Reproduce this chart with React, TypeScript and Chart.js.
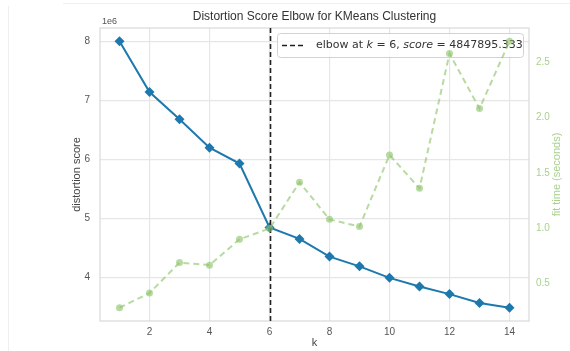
import React, { useEffect, useRef } from 'react';
import { Chart, registerables } from 'chart.js';

Chart.register(...registerables);

// ---- data ----
const kValues = [1, 2, 3, 4, 5, 6, 7, 8, 9, 10, 11, 12, 13, 14];
const distortionScores = [
  8000000, 7140000, 6680000, 6200000, 5930000, 4847895.333, 4655000,
  4355000, 4190000, 3995000, 3850000, 3720000, 3570000, 3490000,
];
const fitTimes = [
  0.283, 0.415, 0.69, 0.667, 0.9, 0.997, 1.415, 1.08, 1.015, 1.662, 1.36,
  2.576, 2.08, 2.687,
];
const xTicks = [2, 4, 6, 8, 10, 12, 14];
const yTicks = [4000000, 5000000, 6000000, 7000000, 8000000];
const y2Ticks = [0.5, 1.0, 1.5, 2.0, 2.5];
const elbowK = 6;
const elbowScore = '4847895.333';

const titleText = 'Distortion Score Elbow for KMeans Clustering';
const yLabel = 'distortion score';
const y2Label = 'fit time (seconds)';
const xLabel = 'k';
const offsetText = '1e6';

const BLUE = '#1d78ad';
const GREEN = 'rgba(140, 196, 105, 0.62)';
const GREEN_TEXT = '#a9d18e';
const SANS = '"Liberation Sans", Arial, sans-serif';

function range(vals: number[]) {
  const lo = Math.min(...vals);
  const hi = Math.max(...vals);
  const m = (hi - lo) * 0.05;
  return [lo - m, hi + m];
}

const decor = {
  id: 'decor',
  beforeDraw(chart: any) {
    const ctx = chart.ctx;
    ctx.save();
    ctx.fillStyle = '#ffffff';
    ctx.fillRect(0, 0, chart.width, chart.height);
    ctx.strokeStyle = '#efefef';
    ctx.lineWidth = 1;
    ctx.beginPath();
    ctx.moveTo(63, 3.5);
    ctx.lineTo(chart.width, 3.5);
    ctx.moveTo(8.5, 6);
    ctx.lineTo(8.5, chart.height);
    ctx.stroke();
    ctx.restore();
  },
  beforeDatasetsDraw(chart: any) {
    const { ctx, chartArea: a } = chart;
    ctx.save();
    ctx.strokeStyle = '#d9d9d9';
    ctx.lineWidth = 1.2;
    ctx.strokeRect(a.left, a.top, a.right - a.left, a.bottom - a.top);
    ctx.restore();
  },
  beforeDatasetDraw(chart: any, args: any) {
    if (args.index !== 1) return;
    const { ctx, chartArea: a } = chart;
    const xs = chart.scales.x;
    const px = Math.round(xs.getPixelForValue(elbowK)) + 0.5;
    ctx.save();
    // elbow line
    ctx.strokeStyle = '#222';
    ctx.lineWidth = 1.6;
    ctx.setLineDash([5, 3]);
    ctx.beginPath();
    ctx.moveTo(px, a.top);
    ctx.lineTo(px, a.bottom);
    ctx.stroke();
    // legend
    ctx.setLineDash([]);
    const bx = 277, by = 33, bw = 246, bh = 24;
    ctx.fillStyle = 'rgba(255,255,255,0.8)';
    ctx.strokeStyle = 'rgba(200,200,200,0.8)';
    ctx.lineWidth = 1;
    ctx.beginPath();
    ctx.roundRect(bx + 0.5, by + 0.5, bw, bh, 3);
    ctx.fill();
    ctx.stroke();
    const ly = by + bh / 2 + 0.5;
    ctx.strokeStyle = '#222';
    ctx.lineWidth = 1.6;
    ctx.setLineDash([5, 3]);
    ctx.beginPath();
    ctx.moveTo(282, ly);
    ctx.lineTo(306, ly);
    ctx.stroke();
    ctx.setLineDash([]);
    const parts: [string, boolean][] = [
      ['elbow at ', false],
      ['k', true],
      [' = 6, ', false],
      ['score', true],
      [' = ' + elbowScore, false],
    ];
    let tx = 316;
    ctx.fillStyle = '#333';
    ctx.textBaseline = 'middle';
    ctx.textAlign = 'left';
    for (const [t, it] of parts) {
      ctx.font = (it ? 'italic ' : '') + '11px "DejaVu Sans", sans-serif';
      ctx.fillText(t, tx, ly);
      tx += ctx.measureText(t).width;
    }
    ctx.restore();
  },
  afterDraw(chart: any) {
    const { ctx, chartArea: a } = chart;
    ctx.save();
    ctx.textAlign = 'center';
    ctx.textBaseline = 'middle';
    ctx.fillStyle = '#333';
    ctx.font = '12px ' + SANS;
    ctx.fillText(titleText, (a.left + a.right) / 2, 17);
    ctx.fillStyle = '#555';
    ctx.font = '9px ' + SANS;
    ctx.textAlign = 'left';
    ctx.fillText(offsetText, a.left + 2, 22);
    ctx.textAlign = 'center';
    ctx.fillStyle = '#444';
    ctx.font = '11px ' + SANS;
    ctx.fillText(xLabel, (a.left + a.right) / 2, 343);
    const cy = (a.top + a.bottom) / 2;
    ctx.save();
    ctx.translate(77, cy);
    ctx.rotate(-Math.PI / 2);
    ctx.fillText(yLabel, 0, 0);
    ctx.restore();
    ctx.save();
    ctx.fillStyle = GREEN_TEXT;
    ctx.translate(557, cy);
    ctx.rotate(-Math.PI / 2);
    ctx.fillText(y2Label, 0, 0);
    ctx.restore();
    ctx.restore();
  },
};

export default function App() {
  const ref = useRef<HTMLCanvasElement | null>(null);
  useEffect(() => {
    if (!ref.current) return;
    const [xMin, xMax] = range(kValues);
    const [yMin, yMax] = range(distortionScores);
    const [y2Min, y2Max] = range(fitTimes);
    const chart = new Chart(ref.current, {
      type: 'line',
      data: {
        datasets: [
          {
            label: 'distortion score',
            data: kValues.map((k, i) => ({ x: k, y: distortionScores[i] })),
            yAxisID: 'y',
            borderColor: BLUE,
            backgroundColor: BLUE,
            borderWidth: 2,
            pointStyle: 'rectRot',
            pointRadius: 5,
            pointBorderWidth: 0,
            order: 1,
          },
          {
            label: 'fit time',
            data: kValues.map((k, i) => ({ x: k, y: fitTimes[i] })),
            yAxisID: 'y2',
            borderColor: GREEN,
            backgroundColor: GREEN,
            borderWidth: 2,
            borderDash: [6, 4],
            pointStyle: 'circle',
            pointRadius: 3.5,
            pointBorderWidth: 0,
            order: 0,
          },
        ],
      },
      options: {
        responsive: false,
        animation: false,
        layout: { padding: { top: 28, left: 0, right: 0, bottom: 0 } },
        plugins: {
          legend: { display: false },
          title: { display: false },
          tooltip: { enabled: false },
        },
        scales: {
          x: {
            type: 'linear',
            min: xMin,
            max: xMax,
            afterBuildTicks: (s: any) => {
              s.ticks = xTicks.map((v) => ({ value: v }));
            },
            afterFit: (s: any) => {
              s.height = 30;
            },
            grid: { color: '#e6e6e6', lineWidth: 1.2, drawTicks: false },
            border: { display: false },
            ticks: {
              padding: 5,
              color: '#555',
              font: { family: SANS, size: 10 },
              maxRotation: 0,
              callback: (v: any) => String(v),
            },
          },
          y: {
            type: 'linear',
            position: 'left',
            min: yMin,
            max: yMax,
            afterBuildTicks: (s: any) => {
              s.ticks = yTicks.map((v) => ({ value: v }));
            },
            afterFit: (s: any) => {
              s.width = 100;
            },
            grid: { color: '#e6e6e6', lineWidth: 1.2, drawTicks: false },
            border: { display: false },
            ticks: {
              padding: 10,
              color: '#555',
              font: { family: SANS, size: 10 },
              callback: (v: any) => String(Number(v) / 1e6),
            },
          },
          y2: {
            type: 'linear',
            position: 'right',
            min: y2Min,
            max: y2Max,
            afterBuildTicks: (s: any) => {
              s.ticks = y2Ticks.map((v) => ({ value: v }));
            },
            afterFit: (s: any) => {
              s.width = 41;
            },
            grid: { display: false, drawTicks: false },
            border: { display: false },
            ticks: {
              padding: 7,
              color: GREEN_TEXT,
              font: { family: SANS, size: 10 },
              callback: (v: any) => Number(v).toFixed(1),
            },
          },
        },
      },
      plugins: [decor],
    } as any);
    return () => chart.destroy();
  }, []);
  return (
    <div style={{ position: 'fixed', left: 0, top: 0, width: 570, height: 351 }}>
      <canvas ref={ref} width={570} height={351} style={{ width: 570, height: 351, display: 'block' }} />
    </div>
  );
}
